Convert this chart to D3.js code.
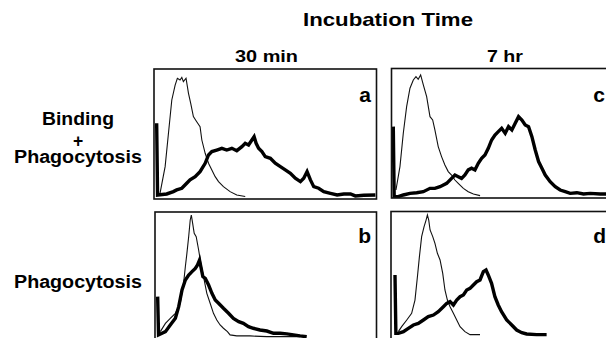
<!DOCTYPE html>
<html>
<head>
<meta charset="utf-8">
<script src="https://cdn.jsdelivr.net/npm/d3@7"></script>
<style>
  body { margin: 0; background: #fff; }
  svg { display: block; }
  text { font-family: "Liberation Sans", Arial, Helvetica, sans-serif; font-weight: bold; fill: #000; }
</style>
</head>
<body>
<svg id="chart" width="606" height="338"></svg>
<script>
// values: [channel, relative count], both 0-100
const columns = ['30 min', '7 hr'];
const rows = [['Binding', '+', 'Phagocytosis'], ['Phagocytosis']];
const panelLetters = ['a', 'c', 'b', 'd'];

const aControl = [[2.7,4.6],[5.0,25.1],[6.5,50.8],[8.0,76.4],[9.5,87.9],[10.5,93.1],[11.7,91.8],[12.5,93.8],[13.2,90.5],[14.4,93.1],[15.5,81.5],[16.5,73.8],[17.7,63.6],[19.2,59.7],[20.7,55.9],[21.5,45.6],[23.0,35.4],[24.5,27.7],[26.0,22.6],[27.5,17.4],[29.0,13.6],[31.2,9.7],[34.2,5.9],[37.2,3.3],[41.0,2.1]];
const aSample = [[1.2,58.5],[1.6,3.3],[5.7,4.1],[8.7,5.9],[10.2,7.2],[12.5,8.5],[14.7,12.3],[16.2,14.9],[18.5,17.4],[20.7,21.3],[23.0,27.7],[24.5,34.1],[26.0,36.7],[28.2,37.9],[30.5,39.2],[32.7,37.9],[35.0,39.2],[37.2,37.4],[39.5,40.5],[41.0,43.1],[42.5,41.8],[44.0,45.6],[45.0,48.2],[45.9,43.1],[47.0,39.2],[48.5,36.7],[50.0,32.8],[52.3,31.5],[54.5,27.7],[56.8,25.1],[59.0,22.6],[61.3,20.0],[63.5,16.2],[65.8,13.6],[67.3,16.2],[68.8,21.3],[70.3,14.9],[71.8,9.7],[74.0,8.5],[76.3,5.9],[79.3,4.6],[82.3,3.3],[85.3,4.1],[88.3,4.1],[90.5,2.6],[94.3,3.1],[99.5,3.3]];

const cControl = [[2.0,5.7],[3.8,24.0],[5.3,50.0],[6.8,70.8],[8.3,85.2],[9.8,91.7],[11.0,94.3],[12.0,92.2],[13.1,95.6],[14.3,87.8],[15.8,78.6],[17.3,63.0],[18.5,60.4],[19.5,52.6],[21.0,39.6],[22.5,31.8],[24.0,25.3],[25.5,20.1],[27.0,17.4],[28.5,13.5],[30.0,10.9],[32.3,7.0],[34.5,4.4],[36.8,2.6],[39.8,1.3]];
const cSample = [[0.8,55.2],[1.2,0.5],[3.0,0.5],[5.3,1.8],[8.3,3.1],[11.3,3.6],[14.3,4.4],[17.3,7.0],[19.5,7.0],[21.8,8.3],[24.8,10.9],[27.0,14.8],[28.5,17.4],[30.0,16.1],[31.5,14.8],[33.0,17.4],[34.5,21.4],[36.0,22.7],[37.5,21.4],[39.0,26.6],[40.5,30.5],[42.0,33.1],[43.5,38.3],[45.0,44.8],[46.5,48.7],[48.0,51.3],[49.5,53.9],[51.1,50.0],[52.6,55.2],[54.1,52.6],[55.6,57.8],[57.1,63.0],[58.6,60.4],[60.1,56.5],[61.6,55.2],[63.1,47.4],[64.6,37.0],[66.1,27.9],[67.6,22.7],[69.1,17.4],[71.3,12.2],[73.6,8.3],[75.8,5.7],[78.1,4.4],[80.3,3.1],[83.3,3.6],[86.3,2.6],[89.3,3.1],[93.8,2.6],[96.8,2.6]];

const bControl = [[2.4,4.5],[4.7,11.1],[6.9,15.1],[9.2,19.1],[11.4,27.1],[12.9,43.0],[13.7,56.2],[14.4,66.8],[15.2,80.1],[15.9,93.4],[16.4,97.3],[17.0,90.7],[17.7,82.8],[18.6,80.1],[19.7,69.5],[20.7,58.9],[21.9,48.3],[23.4,35.0],[24.9,27.1],[26.4,19.1],[27.9,13.8],[29.4,9.8],[30.9,7.2],[32.7,4.5],[33.9,1.9],[36.9,1.1],[42.9,1.1],[50.5,0.5],[65.5,0.5]];
const bSample = [[1.2,32.4],[1.6,1.9],[4.7,4.5],[6.9,9.8],[9.2,15.1],[10.7,24.4],[12.2,37.7],[13.7,45.6],[15.2,49.6],[16.7,52.3],[18.2,54.9],[19.2,57.6],[20.1,61.5],[20.7,56.2],[21.6,48.3],[22.7,46.9],[24.2,41.6],[25.7,35.0],[27.2,29.7],[28.7,27.1],[30.9,23.1],[33.2,19.1],[35.4,15.1],[37.8,12.5],[39.9,11.1],[42.2,8.5],[44.4,7.2],[47.4,5.8],[50.5,5.0],[53.5,3.2],[56.5,3.2],[59.5,2.7],[62.5,1.9],[65.5,1.1],[68.5,0.5]];

const dControl = [[3.3,2.7],[4.8,6.7],[7.1,12.1],[9.3,17.5],[10.8,28.2],[11.9,47.0],[12.8,63.2],[13.8,79.3],[14.9,87.4],[15.8,92.7],[16.4,96.8],[17.0,92.7],[17.6,84.7],[18.8,79.3],[19.8,73.9],[20.9,65.9],[22.1,60.5],[23.3,49.7],[24.3,36.3],[25.4,28.2],[26.6,22.8],[28.1,17.5],[29.6,12.1],[31.1,6.7],[33.3,2.7],[35.6,0.3],[40.1,0.3]];
const dSample = [[1.8,48.4],[2.2,1.3],[3.3,1.3],[5.6,2.7],[7.8,5.4],[10.1,8.1],[12.3,9.4],[14.6,12.1],[16.8,14.8],[19.1,16.1],[21.3,18.8],[23.6,22.8],[25.1,25.5],[26.6,26.9],[28.1,24.2],[29.6,28.2],[31.1,30.9],[32.6,32.3],[34.1,36.3],[35.6,37.6],[37.1,40.3],[38.6,43.0],[40.1,44.4],[41.6,51.1],[42.8,52.4],[43.8,48.4],[45.3,41.7],[46.8,30.9],[48.3,24.2],[49.8,18.8],[52.1,12.1],[54.4,8.1],[56.6,4.0],[58.9,1.9],[61.1,0.8],[65.6,0.3],[70.1,0.3]];

const panelData = {
  a: [aControl, aSample],
  b: [bControl, bSample],
  c: [cControl, cSample],
  d: [dControl, dSample],
};

// layout (pixels)
const boxes = {
  a: { x0: 154, x1: 376.5, top: 69, bottom: 199, y0: 199.3, y1: 69.3, lx: 371, ly: 102 },
  c: { x0: 391.5, x1: 614, top: 68.5, bottom: 198, y0: 197.3, y1: 69.3, lx: 605, ly: 102 },
  b: { x0: 155, x1: 376.5, top: 212, bottom: 342, y0: 337.3, y1: 211.7, lx: 371, ly: 242.5 },
  d: { x0: 391, x1: 613, top: 211.5, bottom: 342, y0: 335, y1: 211, lx: 606, ly: 242.5 },
};

const svg = d3.select('#chart');

svg.append('text')
  .attr('x', 388).attr('y', 26)
  .attr('text-anchor', 'middle')
  .style('font-size', '18.5px')
  .attr('textLength', 170).attr('lengthAdjust', 'spacingAndGlyphs')
  .text('Incubation Time');

const colX = [266.5, 505];
const colW = [63, 36];
columns.forEach((c, i) => {
  svg.append('text')
    .attr('x', colX[i]).attr('y', 61.5)
    .attr('text-anchor', 'middle')
    .style('font-size', '17px')
    .attr('textLength', colW[i]).attr('lengthAdjust', 'spacingAndGlyphs')
    .text(c);
});

const rowLines = [[125, 147, 163], [288]];
rows.forEach((lines, r) => {
  lines.forEach((t, k) => {
    const s = svg.append('text')
      .attr('x', 78).attr('y', rowLines[r][k])
      .attr('text-anchor', 'middle')
      .style('font-size', '17.5px')
      .text(t);
    if (t !== '+') {
      s.attr('textLength', t === 'Binding' ? 72 : 128).attr('lengthAdjust', 'spacingAndGlyphs');
    }
  });
});

const line = d3.line().curve(d3.curveLinear);

panelLetters.forEach(key => {
  const b = boxes[key];
  const x = d3.scaleLinear().domain([0, 100]).range([b.x0, b.x1]);
  const y = d3.scaleLinear().domain([0, 100]).range([b.y0, b.y1]);
  const g = svg.append('g').attr('class', 'panel-' + key);

  g.append('clipPath').attr('id', 'clip-' + key)
    .append('rect')
    .attr('x', b.x0).attr('y', b.top)
    .attr('width', b.x1 - b.x0).attr('height', b.bottom - b.top);

  const [control, sample] = panelData[key];
  line.x(d => x(d[0])).y(d => y(d[1]));

  const curves = g.append('g').attr('clip-path', `url(#clip-${key})`);
  curves.append('path')
    .attr('d', line(control))
    .attr('fill', 'none')
    .attr('stroke', '#111')
    .attr('stroke-width', 1.1);
  curves.append('path')
    .attr('d', line(sample))
    .attr('fill', 'none')
    .attr('stroke', '#000')
    .attr('stroke-width', 3.4)
    .attr('stroke-linejoin', 'miter');

  g.append('rect')
    .attr('x', b.x0).attr('y', b.top)
    .attr('width', b.x1 - b.x0).attr('height', b.bottom - b.top)
    .attr('fill', 'none')
    .attr('stroke', '#111')
    .attr('stroke-width', 1.6);

  g.append('text')
    .attr('x', b.lx).attr('y', b.ly)
    .attr('text-anchor', 'end')
    .style('font-size', '21px')
    .text(key);
});
</script>
</body>
</html>
